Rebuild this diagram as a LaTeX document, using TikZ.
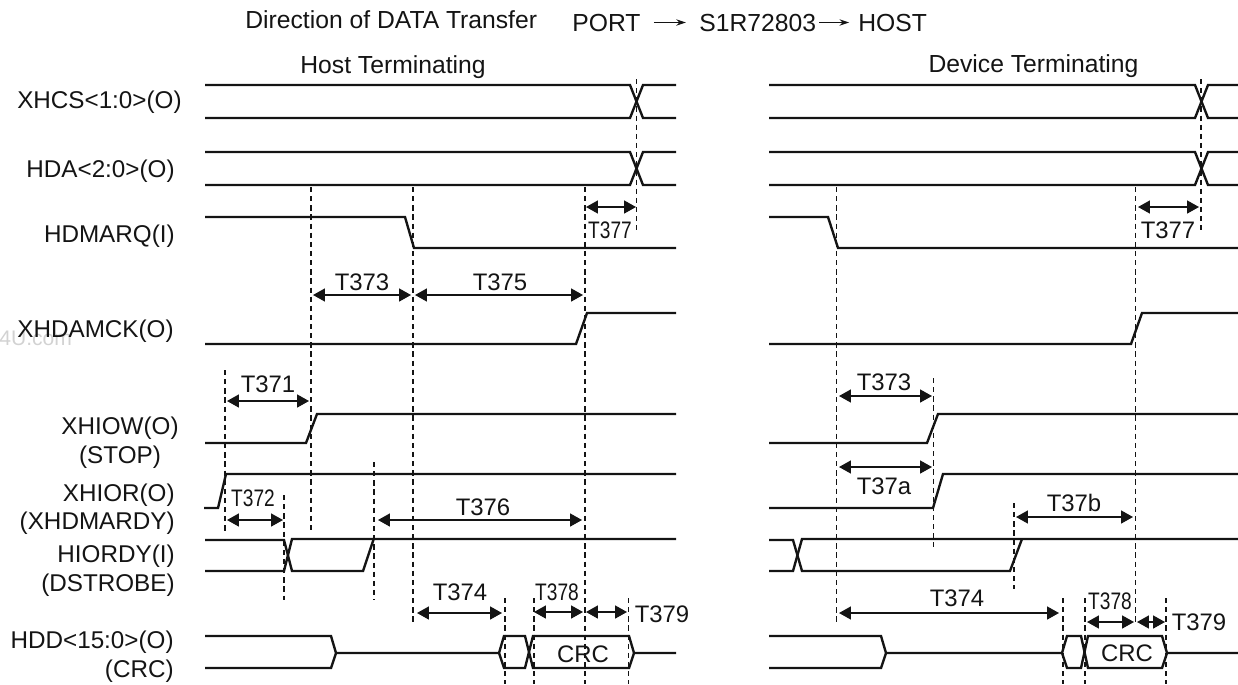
\documentclass[tikz,border=0pt]{standalone}
\usepackage{fontspec}
\setmainfont{Liberation Sans}
\usetikzlibrary{arrows.meta}
\definecolor{ink}{RGB}{20,20,20}
\definecolor{wmark}{RGB}{210,210,210}
\newcommand{\sigfont}{\fontsize{13.8}{16}\selectfont}
\newcommand{\timefont}{\fontsize{13.6}{16}\selectfont}
\newcommand{\headfont}{\fontsize{14.05}{16}\selectfont}
\newcommand{\nar}[1]{\scalebox{0.8}[1]{#1}}
\tikzset{
  wave/.style={draw=ink,line width=1.35pt,line join=miter},
  guide/.style={draw=ink,line width=0.85pt,dash pattern=on 3pt off 2.2pt},
  span/.style={{Triangle[length=6.8pt,width=7.4pt]}-{Triangle[length=6.8pt,width=7.4pt]},draw=ink,line width=0.85pt},
  flow/.style={-{Stealth[length=5.5pt,width=3.6pt]},draw=ink,line width=0.85pt},
  lbl/.style={font=\timefont,text=ink,inner sep=0pt,anchor=base},
  head/.style={lbl,font=\headfont},
  sig/.style={lbl,font=\sigfont,anchor=base east},
}
\begin{document}
\begin{tikzpicture}[x=0.02cm,y=-0.02cm]
\useasboundingbox (0,0) rectangle (1238,684);
% heading
\node[head,anchor=base west] (dir) at (245,28) {Direction of DATA Transfer};
\node[head,anchor=base west] (port) at (572,31) {PORT};
\node[head,anchor=base west] (chip) at (699,31) {S1R72803};
\node[head,anchor=base west] (host) at (858,31) {HOST};
\draw[flow,shorten <=7.4pt,shorten >=7.4pt] (port.east) -- (chip.west);
\draw[flow,shorten <=1.7pt,shorten >=5pt] (chip.east) -- (host.west);
\node[head] (hostterm) at (393,73) {Host Terminating};
\node[head] (devterm) at (1033.5,72) {Device Terminating};
% signal names
\node[lbl,anchor=base west,text=wmark] (mark) at (-1,345) {\fontsize{12}{14}\selectfont 4U.com};
\node[sig] (xhcs) at (182,108) {XHCS<1:0>(O)};
\node[sig] (hda) at (175,177) {HDA<2:0>(O)};
\node[sig] (hdmarq) at (175,242) {HDMARQ(I)};
\node[sig] (xhdamck) at (174,337) {XHDAMCK(O)};
\node[lbl,font=\sigfont] (xhiow) at (120,434) {XHIOW(O)};
\node[lbl,font=\sigfont] (stop) at (120,463) {(STOP)};
\node[sig] (xhior) at (175,501) {XHIOR(O)};
\node[sig] (xhdmardy) at (175,529) {(XHDMARDY)};
\node[sig] (hiordy) at (175,562) {HIORDY(I)};
\node[sig] (dstrobe) at (175,591) {(DSTROBE)};
\node[sig] (hdd) at (174,648) {HDD<15:0>(O)};
\node[sig] (crcname) at (174,677) {(CRC)};
% host terminating: waveforms
\foreach \y/\z in {85/118,152/185}{
  \draw[wave] (205,\y) -- (630,\y) -- (643,\z) -- (676,\z);
  \draw[wave] (205,\z) -- (630,\z) -- (643,\y) -- (676,\y);
}
\draw[wave] (205,217) -- (405,217) -- (414,248) -- (676,248);
\draw[wave] (205,344) -- (576,344) -- (587,313) -- (676,313);
\draw[wave] (205,443) -- (306,443) -- (317,414) -- (676,414);
\draw[wave] (204,508) -- (218,508) -- (226,474) -- (676,474);
\draw[wave] (205,540) -- (284,540) -- (292,571) -- (363,571) -- (374,538);
\draw[wave] (205,571) -- (284,571) -- (292,539) -- (676,539);
\draw[wave] (205,636) -- (331,636) -- (336,653) -- (331,668) -- (205,668);
\draw[wave] (336,653) -- (499,653) -- (504,636) -- (525,636) -- (533,668) -- (629,668) -- (634,653) -- (676,653);
\draw[wave] (499,653) -- (504,668) -- (525,668) -- (533,636) -- (629,636) -- (634,653);
% host terminating: guides
\foreach \x/\a/\b in {225/370/531,311/187/533,284/495/600,374/462/600,413/187/622,
  585/187/684,636.5/79/230,505/598/684,534/598/684,628.5/598/684}
  \draw[guide] (\x,\a) -- (\x,\b);
% host terminating: spans
\draw[span] (586,207) -- (636,207);
\node[lbl] (t377h) at (610,238) {\nar{T377}};
\draw[span] (313,295) -- (411,295);
\node[lbl] (t373h) at (362,290) {T373};
\draw[span] (415,295) -- (583,295);
\node[lbl] (t375h) at (500,290) {T375};
\draw[span] (227,401) -- (309,401);
\node[lbl] (t371h) at (268,392) {T371};
\draw[span] (227,520) -- (283,520);
\node[lbl] (t372h) at (253,506) {\nar{T372}};
\draw[span] (378,520) -- (582,520);
\node[lbl] (t376h) at (483,515) {T376};
\draw[span] (417,613) -- (502,613);
\node[lbl] (t374h) at (460,600) {T374};
\draw[span] (534,612) -- (583,612);
\node[lbl] (t378h) at (557,600) {\nar{T378}};
\draw[span] (586,612) -- (627,612);
\node[lbl] (t379h) at (662,622) {T379};
\node[lbl] (crch) at (583,662) {CRC};
% device terminating: waveforms
\foreach \y/\z in {85/118,152/185}{
  \draw[wave] (769,\y) -- (1195,\y) -- (1208,\z) -- (1238,\z);
  \draw[wave] (769,\z) -- (1195,\z) -- (1208,\y) -- (1238,\y);
}
\draw[wave] (769,217) -- (828,217) -- (838,248) -- (1238,248);
\draw[wave] (769,344) -- (1131,344) -- (1142,313) -- (1238,313);
\draw[wave] (769,443) -- (927,443) -- (938,414) -- (1238,414);
\draw[wave] (769,508) -- (933,508) -- (943,474) -- (1238,474);
\draw[wave] (769,540) -- (793,540) -- (802,571) -- (1010,571) -- (1022,539);
\draw[wave] (769,571) -- (793,571) -- (802,539) -- (1238,539);
\draw[wave] (769,636) -- (881,636) -- (886,653) -- (881,668) -- (769,668);
\draw[wave] (886,653) -- (1062,653) -- (1067,636) -- (1081,636) -- (1088,668) -- (1162,668) -- (1167,653) -- (1238,653);
\draw[wave] (1062,653) -- (1067,668) -- (1081,668) -- (1088,636) -- (1162,636) -- (1167,653);
% device terminating: guides
\foreach \x/\a/\b in {836.5/187/622,1135.5/187/622,1201/79/230,933.5/378/547,1014/503/589,
  1063/598/684,1085/598/684,1166/598/684}
  \draw[guide] (\x,\a) -- (\x,\b);
% device terminating: spans
\draw[span] (1138,207) -- (1199,207);
\node[lbl] (t377d) at (1168,238) {T377};
\draw[span] (839,396) -- (932,396);
\node[lbl] (t373d) at (884,390) {T373};
\draw[span] (839,467) -- (932,467);
\node[lbl] (t37ad) at (884,494) {T37a};
\draw[span] (1016,517) -- (1133,517);
\node[lbl] (t37bd) at (1074,511) {T37b};
\draw[span] (839,613) -- (1059,613);
\node[lbl] (t374d) at (957,606) {T374};
\draw[span] (1087,622) -- (1134,622);
\node[lbl] (t378d) at (1110,609) {\nar{T378}};
\draw[span] (1137,622) -- (1165,622);
\node[lbl] (t379d) at (1199,630) {T379};
\node[lbl] (crcd) at (1127,661) {CRC};
\end{tikzpicture}
\end{document}
